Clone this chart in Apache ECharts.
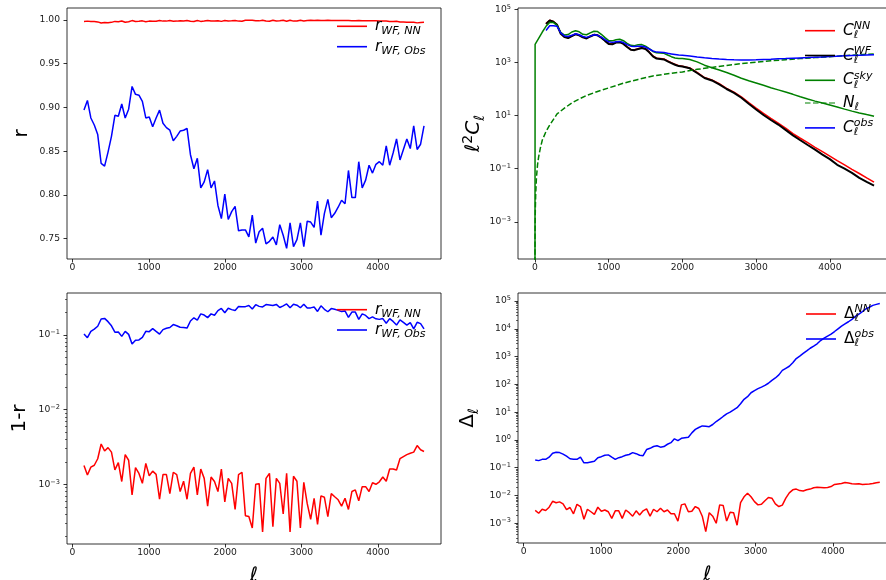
<!DOCTYPE html>
<html><head><meta charset="utf-8">
<script src="https://cdn.jsdelivr.net/npm/echarts@6/dist/echarts.min.js"></script>
<style>html,body{margin:0;padding:0;background:#fff}#c{width:886px;height:580px}</style>
</head><body><div id="c"></div>
<script>
// ---------- data ----------
const ell = [150,195,240,285,330,375,420,465,510,555,600,645,690,735,780,825,870,915,960,1005,1050,1095,1140,1185,1230,1275,1320,1365,1410,1455,1500,1545,1590,1635,1680,1725,1770,1815,1860,1905,1950,1995,2040,2085,2130,2175,2220,2265,2310,2355,2400,2445,2490,2535,2580,2625,2670,2715,2760,2805,2850,2895,2940,2985,3030,3075,3120,3165,3210,3255,3300,3345,3390,3435,3480,3525,3570,3615,3660,3705,3750,3795,3840,3885,3930,3975,4020,4065,4110,4155,4200,4245,4290,4335,4380,4425,4470,4515,4560,4605];

const rNN = [0.9982,0.9987,0.9983,0.9982,0.9978,0.9965,0.9972,0.9969,0.9973,0.9984,
0.9981,0.9989,0.9975,0.9979,0.9993,0.9983,0.9986,0.9990,0.9981,0.9987,
0.9985,0.9986,0.9994,0.9987,0.9987,0.9993,0.9986,0.9987,0.9992,0.9989,
0.9994,0.9986,0.9983,0.9993,0.9984,0.9988,0.9995,0.9988,0.9989,0.9992,
0.9984,0.9994,0.9988,0.9990,0.9995,0.9987,0.9986,0.9996,0.9996,0.9997,
0.9990,0.9990,0.9998,0.9988,0.9986,0.9997,0.9988,0.9990,0.9996,0.9986,
0.9998,0.9987,0.9989,0.9997,0.9989,0.9995,0.9997,0.9994,0.9997,0.9993,
0.9993,0.9996,0.9993,0.9993,0.9994,0.9995,0.9994,0.9995,0.9992,0.9992,
0.9994,0.9991,0.9991,0.9992,0.9990,0.9990,0.9989,0.9988,0.9989,0.9984,
0.9984,0.9985,0.9978,0.9977,0.9975,0.9974,0.9973,0.9967,0.9971,0.9973];

const rObs = [0.897,0.908,0.888,0.880,0.869,0.836,0.833,0.849,0.867,0.891,
0.890,0.904,0.888,0.898,0.924,0.915,0.914,0.907,0.888,0.889,
0.878,0.888,0.897,0.882,0.877,0.874,0.862,0.867,0.873,0.874,
0.876,0.846,0.830,0.842,0.808,0.815,0.829,0.808,0.816,0.788,
0.773,0.801,0.772,0.781,0.787,0.759,0.760,0.760,0.752,0.777,
0.745,0.758,0.762,0.744,0.747,0.752,0.743,0.766,0.754,0.739,
0.768,0.741,0.749,0.768,0.741,0.770,0.769,0.763,0.793,0.754,
0.779,0.795,0.774,0.779,0.786,0.794,0.790,0.828,0.797,0.797,
0.838,0.808,0.817,0.834,0.825,0.835,0.838,0.834,0.856,0.834,
0.848,0.864,0.840,0.852,0.864,0.853,0.879,0.852,0.858,0.879];

const omrNN = [1.78e-3,1.33e-3,1.7e-3,1.8e-3,2.2e-3,3.47e-3,2.8e-3,3.1e-3,2.7e-3,1.56e-3,
1.95e-3,1.09e-3,2.5e-3,2.1e-3,7.2e-4,1.67e-3,1.4e-3,1.03e-3,1.9e-3,1.3e-3,
1.5e-3,1.36e-3,6.3e-4,1.35e-3,1.35e-3,7.5e-4,1.45e-3,1.35e-3,8e-4,1.1e-3,
6.3e-4,1.4e-3,1.7e-3,7.2e-4,1.6e-3,1.2e-3,5.1e-4,1.25e-3,1.09e-3,8e-4,
1.6e-3,5.8e-4,1.2e-3,1.03e-3,4.6e-4,1.35e-3,1.45e-3,3.8e-4,3.7e-4,2.6e-4,
1.0e-3,1.02e-3,2.3e-4,1.2e-3,1.4e-3,2.7e-4,1.2e-3,1.03e-3,4e-4,1.4e-3,
2.3e-4,1.28e-3,1.1e-3,2.6e-4,1.06e-3,5.5e-4,3.4e-4,6.5e-4,2.9e-4,7e-4,
6.7e-4,3.7e-4,7.5e-4,6.8e-4,6.2e-4,5.1e-4,6.5e-4,4.6e-4,8e-4,8.4e-4,
6e-4,9.3e-4,9.3e-4,8e-4,1.05e-3,1.0e-3,1.08e-3,1.25e-3,1.1e-3,1.6e-3,
1.6e-3,1.55e-3,2.2e-3,2.35e-3,2.5e-3,2.6e-3,2.7e-3,3.3e-3,2.9e-3,2.75e-3];

const omrObs = [0.103,0.092,0.112,0.120,0.131,0.164,0.167,0.151,0.133,0.109,
0.110,0.096,0.112,0.102,0.076,0.085,0.086,0.093,0.112,0.111,
0.122,0.112,0.103,0.118,0.123,0.126,0.138,0.133,0.127,0.126,
0.124,0.154,0.170,0.158,0.192,0.185,0.171,0.192,0.184,0.212,
0.227,0.199,0.228,0.219,0.213,0.241,0.240,0.240,0.248,0.223,
0.255,0.242,0.238,0.256,0.253,0.248,0.257,0.234,0.246,0.261,
0.232,0.259,0.251,0.232,0.259,0.230,0.231,0.237,0.207,0.246,
0.221,0.205,0.226,0.221,0.214,0.206,0.210,0.172,0.203,0.203,
0.162,0.192,0.183,0.166,0.175,0.165,0.162,0.166,0.144,0.166,
0.152,0.136,0.160,0.148,0.136,0.147,0.121,0.148,0.142,0.121];

const clL = [150,200,250,300,350,400,450,500,550,600,650,700,750,800,850,900,950,1000,1050,1100,1150,1200,1250,1300,1350,1400,1450,1500,1550,1600,1650,1700,1750,1800,1850,1900,1950,2000,
2100,2200,2300,2400,2500,2600,2700,2800,2900,3000,3100,3200,3300,3400,3500,3600,3700,3800,3900,4000,4100,4200,4300,4400,4500,4600];

const cNN = [2.9e4,3.9e4,3.5e4,2.6e4,1.25e4,9.2e3,8.5e3,1.0e4,1.18e4,1.07e4,9.0e3,8.2e3,9.6e3,1.12e4,1.07e4,8.7e3,6.7e3,5.2e3,5.0e3,5.7e3,5.9e3,5.1e3,3.9e3,3.1e3,3.0e3,3.3e3,3.6e3,3.3e3,2.5e3,1.75e3,1.45e3,1.4e3,1.35e3,1.15e3,980,850,760,720,
620,420,270,220,158,106,76,51,31,19,12,7.8,5.2,3.4,2.1,1.4,0.95,0.64,0.44,0.3,0.2,0.14,0.095,0.066,0.045,0.031];

const cWF = [2.8e4,3.8e4,3.4e4,2.6e4,1.2e4,9.0e3,8.3e3,9.8e3,1.15e4,1.05e4,8.8e3,8.0e3,9.5e3,1.1e4,1.05e4,8.5e3,6.5e3,5.0e3,4.8e3,5.6e3,5.8e3,5.0e3,3.8e3,3.0e3,2.9e3,3.2e3,3.5e3,3.2e3,2.4e3,1.7e3,1.4e3,1.35e3,1.3e3,1.1e3,950,820,730,700,
600,400,260,210,150,100,72,47,28,17,10.5,6.8,4.6,2.9,1.8,1.18,0.78,0.52,0.34,0.23,0.14,0.1,0.07,0.045,0.032,0.023];

const cObs = [1.6e4,2.4e4,2.4e4,2.3e4,1.3e4,1.0e4,9.5e3,1.05e4,1.2e4,1.1e4,9.5e3,8.8e3,9.8e3,1.1e4,1.05e4,9.0e3,7.2e3,6.0e3,5.7e3,6.0e3,6.2e3,5.6e3,4.7e3,4.1e3,4.0e3,4.1e3,4.1e3,3.8e3,3.2e3,2.7e3,2.45e3,2.4e3,2.35e3,2.2e3,2.1e3,2.0e3,1.9e3,1.85e3,
1.75e3,1.6e3,1.5e3,1.42e3,1.35e3,1.3e3,1.27e3,1.25e3,1.25e3,1.27e3,1.3e3,1.33e3,1.37e3,1.4e3,1.44e3,1.48e3,1.52e3,1.57e3,1.62e3,1.67e3,1.72e3,1.77e3,1.82e3,1.86e3,1.9e3,1.93e3];

const skyL = [0,2,50,100,150,200,250,300,350,400,450,500,550,600,650,700,750,800,850,900,950,1000,1050,1100,1150,1200,1250,1300,1350,1400,1450,1500,1550,1600,1650,1700,1750,1800,1850,1900,1950,2000,
2100,2200,2300,2400,2500,2600,2700,2800,2900,3000,3100,3200,3300,3400,3500,3600,3700,3800,3900,4000,4100,4200,4300,4400,4500,4600];

const cSky = [1e-9,4.8e3,8e3,1.4e4,2.3e4,3.2e4,3.2e4,2.5e4,1.35e4,1.08e4,1.12e4,1.4e4,1.55e4,1.42e4,1.15e4,1.1e4,1.3e4,1.5e4,1.45e4,1.15e4,8.6e3,6.6e3,6.5e3,7.2e3,7.5e3,6.6e3,5.2e3,4.4e3,4.3e3,4.6e3,4.7e3,4.1e3,3.3e3,2.6e3,2.3e3,2.25e3,2.2e3,1.9e3,1.65e3,1.48e3,1.42e3,1.4e3,
1.3e3,1.05e3,790,630,520,420,330,255,205,168,138,112,93,77,63,51,42,35,29.5,25,21,17.5,14.7,12.6,10.9,9.5];

const noiseL = [0,1,2,5,10,20,35,50,75,100,150,200,300,400,500,600,700,800,900,1000,1200,1400,1600,1800,2000,2200,2400,2600,2800,3000,3200,3400,3600,3800,4000,4200,4400,4600];
const nL = [1e-9,1.1e-4,4.5e-4,2.8e-3,0.011,0.045,0.14,0.28,0.63,1.2,2.5,4.4,11.5,19,30,42,57,72,90,110,165,230,310,375,440,550,650,770,900,1020,1150,1270,1400,1520,1650,1800,1950,2100];

const dNN = [2.9e-3,2.3e-3,3.2e-3,2.9e-3,3.8e-3,6.2e-3,5.5e-3,5.9e-3,5.0e-3,3.1e-3,
3.7e-3,2.2e-3,4.8e-3,4.0e-3,1.4e-3,3.2e-3,2.6e-3,2.1e-3,3.8e-3,2.7e-3,
3.0e-3,2.6e-3,1.5e-3,2.8e-3,2.8e-3,1.5e-3,3.0e-3,2.4e-3,1.8e-3,2.8e-3,
2.0e-3,2.8e-3,3.3e-3,1.8e-3,3.2e-3,2.6e-3,3.5e-3,2.6e-3,3.0e-3,2.2e-3,
2.2e-3,1.2e-3,4.6e-3,5.0e-3,2.6e-3,2.7e-3,4.0e-3,3.4e-3,1.8e-3,5e-4,
2.4e-3,1.8e-3,1.0e-3,4.6e-3,4.4e-3,1.2e-3,2.5e-3,2.4e-3,8.5e-4,5.5e-3,
9e-3,1.2e-2,9e-3,6e-3,4.6e-3,4.8e-3,6.5e-3,8.5e-3,8e-3,5e-3,
4e-3,4.5e-3,8e-3,1.25e-2,1.6e-2,1.7e-2,1.5e-2,1.45e-2,1.6e-2,1.7e-2,
1.9e-2,2.0e-2,1.95e-2,1.9e-2,1.95e-2,2.1e-2,2.5e-2,2.6e-2,2.7e-2,2.95e-2,
2.8e-2,2.65e-2,2.6e-2,2.65e-2,2.5e-2,2.55e-2,2.6e-2,2.7e-2,2.9e-2,3.0e-2];

const dObs = [0.19,0.18,0.20,0.20,0.24,0.33,0.36,0.35,0.31,0.26,
0.21,0.20,0.20,0.24,0.15,0.15,0.16,0.17,0.23,0.25,
0.28,0.29,0.24,0.20,0.23,0.25,0.28,0.30,0.35,0.32,
0.28,0.27,0.45,0.50,0.58,0.62,0.55,0.58,0.70,0.80,
1.1,0.95,1.15,1.2,1.25,1.8,2.4,2.8,3.2,3.1,
3.0,3.6,4.6,5.6,7.0,8.7,10,12,14.5,20,
29,36,50,60,70,80,92,110,140,170,
220,320,380,450,600,850,1050,1300,1600,2000,
2400,2900,3800,4600,5500,6500,8000,1.0e4,1.25e4,1.5e4,
1.8e4,2.2e4,2.8e4,3.4e4,4.2e4,5.2e4,6.0e4,7.0e4,7.6e4,8.2e4];

const xTicks = [0,1000,2000,3000,4000];
const rTicks = [0.75,0.80,0.85,0.90,0.95,1.00];
const clExp = [-3,-1,1,3,5];
const omrExp = [-3,-2,-1];
const dExp = [-3,-2,-1,0,1,2,3,4,5];

// ---------- helpers ----------
const FONT = 'DejaVu Sans';
const zip = (xs, ys) => xs.map((x, i) => [x, ys[i]]);
const tickStyle = {show: true, inside: false, length: 3.5, lineStyle: {color: '#000', width: 0.8}};
const labelBase = {fontFamily: FONT, fontSize: 9.2, color: '#1a1a1a'};
const powRich = {
  b: {fontFamily: FONT, fontSize: 9.2, lineHeight: 12, color: '#1a1a1a'},
  s: {fontFamily: FONT, fontSize: 6.6, lineHeight: 7, verticalAlign: 'top', color: '#1a1a1a'}
};
const powFmt = v => '{b|10}{s|' + (v < 0 ? '\u2212' + (-v) : String(v)) + '}';
function minorVals(lo, hi) {
  const out = [];
  for (let e = Math.floor(lo); e <= Math.ceil(hi); e++) {
    for (let k = 2; k <= 9; k++) { const v = e + Math.log10(k); if (v > lo && v < hi) out.push(v); }
  }
  return out;
}
function grid(l, t, w, h) {
  return {left: l, top: t, width: w, height: h, show: true, borderColor: '#000', borderWidth: 0.8,
    backgroundColor: 'transparent', containLabel: false, outerBoundsMode: 'none'};
}
function xAx(gi, min, max, name) {
  return {type: 'value', gridIndex: gi, min: min, max: max, position: 'bottom',
    axisLine: {show: false, onZero: false}, splitLine: {show: false},
    axisTick: Object.assign({}, tickStyle, {customValues: xTicks}),
    axisLabel: Object.assign({}, labelBase, {margin: 4, customValues: xTicks, formatter: v => String(v)}),
    name: name || '', nameLocation: 'middle', nameGap: 22, nameMoveOverlap: false,
    nameTextStyle: {fontFamily: FONT, fontStyle: 'italic', fontSize: 20, color: '#000'}};
}
function logMain(gi, lo, hi) {
  return {type: 'log', logBase: 10, gridIndex: gi, position: 'left', min: Math.pow(10, lo), max: Math.pow(10, hi),
    axisLine: {show: false, onZero: false}, axisTick: {show: false}, axisLabel: {show: false}, splitLine: {show: false}, minorTick: {show: false}};
}
function logLab(gi, lo, hi, exps, name, gap, nts) {
  return {type: 'value', gridIndex: gi, position: 'left', min: lo, max: hi,
    axisLine: {show: false, onZero: false}, splitLine: {show: false},
    axisTick: Object.assign({}, tickStyle, {customValues: exps}),
    axisLabel: Object.assign({}, labelBase, {margin: 7, customValues: exps, formatter: powFmt, rich: powRich}),
    name: name, nameLocation: 'middle', nameGap: gap, nameRotate: 90, nameMoveOverlap: false, nameTextStyle: nts};
}
function logMinor(gi, lo, hi) {
  const mv = minorVals(lo, hi);
  return {type: 'value', gridIndex: gi, position: 'left', min: lo, max: hi,
    axisLine: {show: false, onZero: false}, splitLine: {show: false}, axisLabel: {show: false, customValues: mv},
    axisTick: {show: true, inside: false, length: 2, customValues: mv, lineStyle: {color: '#000', width: 0.6}}};
}
const nameRich = {
  i: {fontFamily: FONT, fontStyle: 'italic', fontSize: 20, lineHeight: 26, color: '#000'},
  u: {fontFamily: FONT, fontSize: 20, lineHeight: 26, color: '#000'},
  p: {fontFamily: FONT, fontSize: 14, lineHeight: 13, verticalAlign: 'top', color: '#000'},
  b: {fontFamily: FONT, fontStyle: 'italic', fontSize: 14, lineHeight: 14, verticalAlign: 'bottom', color: '#000'}
};
function line(name, xi, yi, data, color, width, dash) {
  return {type: 'line', name: name, xAxisIndex: xi, yAxisIndex: yi, data: data, symbol: 'none',
    showSymbol: false, clip: true, animation: false, silent: true,
    lineStyle: {color: color, width: width || 1.5, type: dash || 'solid'}, itemStyle: {color: color}};
}

const legLabels = {
  rNN1: '{m|r}{rs|WF, NN}', rObs1: '{m|r}{rs|WF, Obs}',
  rNN2: '{m|r}{rs|WF, NN}', rObs2: '{m|r}{rs|WF, Obs}',
  cNN: '{m|C}{sb|\u2113}{sp|NN}', cWF: '{m|C}{sb|\u2113}{sp|WF}', cSky: '{m|C}{sb|\u2113}{sp|sky}',
  nL: '{m|N}{sbw|\u2113}', cObs: '{m|C}{sb|\u2113}{sp|obs}',
  dNN: '{u|\u0394}{sb|\u2113}{sp|NN}', dObs: '{u|\u0394}{sb|\u2113}{sp|obs}'
};
const legRich = {
  m: {fontFamily: FONT, fontStyle: 'italic', fontSize: 15.5, lineHeight: 20, color: '#000'},
  u: {fontFamily: FONT, fontSize: 15.5, lineHeight: 20, color: '#000'},
  rs: {fontFamily: FONT, fontStyle: 'italic', fontSize: 11, lineHeight: 10, verticalAlign: 'bottom', color: '#000'},
  sb: {fontFamily: FONT, fontStyle: 'italic', fontSize: 11, lineHeight: 13, verticalAlign: 'bottom', width: 0, color: '#000'},
  sbw: {fontFamily: FONT, fontStyle: 'italic', fontSize: 11, lineHeight: 13, verticalAlign: 'bottom', color: '#000'},
  sp: {fontFamily: FONT, fontStyle: 'italic', fontSize: 11, lineHeight: 10, verticalAlign: 'top', color: '#000'}
};
const SOLID_ICON = 'rect';
const DASH_ICON = 'path://M0,0h5.5v1h-5.5zM8,0h5.5v1h-5.5zM16,0h5.5v1h-5.5zM24,0h6v1h-6z';
function leg(names, left, top, gap) {
  return {data: names.map(n => ({name: n, icon: n === 'nL' ? DASH_ICON : SOLID_ICON})),
    orient: 'vertical', left: left, top: top, itemWidth: 30, itemHeight: 1.6, itemGap: gap,
    selectedMode: false, padding: 0, formatter: n => legLabels[n],
    textStyle: {fontFamily: FONT, fontSize: 15.5, color: '#000', padding: [0, 0, 0, 3], rich: legRich}};
}

// ---------- chart ----------
const chart = echarts.init(document.getElementById('c'), null, {renderer: 'canvas'});
const CL = [-4.4, 5.05], OM = [-3.80, -0.437], DL = [-3.71, 5.29];
chart.setOption({
  animation: false,
  backgroundColor: '#fff',
  grid: [grid(67, 8, 374, 251), grid(518, 8, 373, 251), grid(67, 293, 374, 251), grid(518, 293, 379, 250)],
  xAxis: [xAx(0, -72.5, 4827.5), xAx(1, -230, 4830), xAx(2, -72.5, 4827.5, '\u2113'), xAx(3, -72.5, 4827.5, '\u2113')],
  yAxis: [
    {type: 'value', gridIndex: 0, position: 'left', min: 0.7268, max: 1.0137,
      axisLine: {show: false, onZero: false}, splitLine: {show: false},
      axisTick: Object.assign({}, tickStyle, {customValues: rTicks}),
      axisLabel: Object.assign({}, labelBase, {margin: 7, customValues: rTicks, formatter: v => v.toFixed(2)}),
      name: 'r', nameLocation: 'middle', nameGap: 35, nameRotate: 90, nameMoveOverlap: false,
      nameTextStyle: {fontFamily: FONT, fontSize: 20, color: '#000'}},
    logMain(1, CL[0], CL[1]),
    logLab(1, CL[0], CL[1], clExp, '{i|\u2113}{p|2}{i|C}{b|\u2113}', 31, {rich: nameRich}),
    logMain(2, OM[0], OM[1]),
    logLab(2, OM[0], OM[1], omrExp, '1-r', 37, {fontFamily: FONT, fontSize: 20, color: '#000'}),
    logMinor(2, OM[0], OM[1]),
    logMain(3, DL[0], DL[1]),
    logLab(3, DL[0], DL[1], dExp, '{u|\u0394}{b|\u2113}', 37, {rich: nameRich}),
    logMinor(3, DL[0], DL[1])
  ],
  legend: [
    leg(['rNN1', 'rObs1'], 337, 18.3, 2.4),
    leg(['cNN', 'cWF', 'cSky', 'nL', 'cObs'], 805, 20.7, 4.8),
    leg(['rNN2', 'rObs2'], 337, 301.7, 2.3),
    leg(['dNN', 'dObs'], 806, 304, 5)
  ],
  series: [
    line('rNN1', 0, 0, zip(ell, rNN), '#ff0000'),
    line('rObs1', 0, 0, zip(ell, rObs), '#0000ff'),
    line('cNN', 1, 1, zip(clL, cNN), '#ff0000'),
    line('cWF', 1, 1, zip(clL, cWF), '#000000', 2),
    line('cSky', 1, 1, zip(skyL, cSky), '#008000'),
    line('nL', 1, 1, zip(noiseL, nL), '#008000', 1.5, [5.5, 2.4]),
    line('cObs', 1, 1, zip(clL, cObs), '#0000ff'),
    line('rNN2', 2, 3, zip(ell, omrNN), '#ff0000'),
    line('rObs2', 2, 3, zip(ell, omrObs), '#0000ff'),
    line('dNN', 3, 6, zip(ell, dNN), '#ff0000'),
    line('dObs', 3, 6, zip(ell, dObs), '#0000ff')
  ]
});
</script>
</body></html>
